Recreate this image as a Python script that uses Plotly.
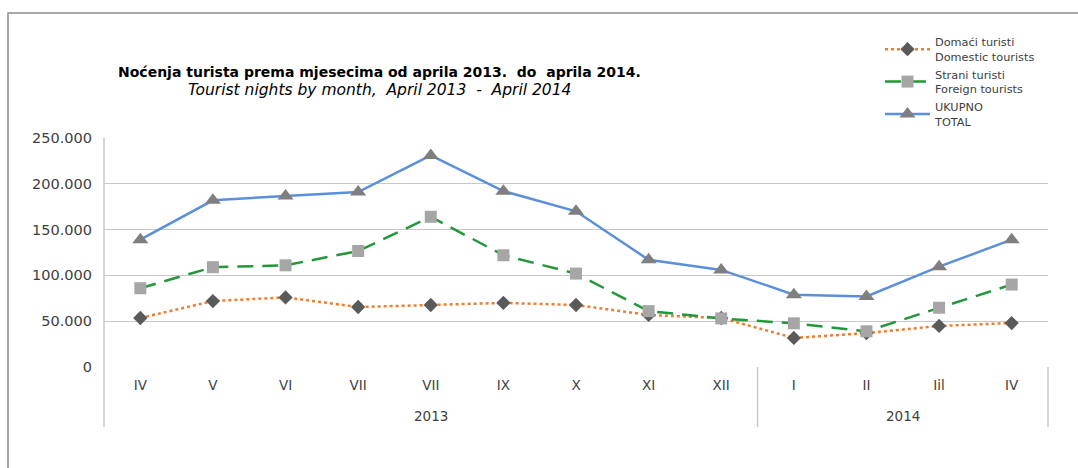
import plotly.graph_objects as go

months = ["IV", "V", "VI", "VII", "VII", "IX", "X", "XI", "XII", "I", "II", "Iil", "IV"]
years = ["2013", "2014"]
year_counts = [9, 4]
domestic = [53500, 72000, 76000, 65500, 67700, 70000, 67700, 56800, 53500, 31700, 37000, 44800, 48000]
foreign = [86000, 109000, 111000, 126600, 164000, 122000, 102000, 61000, 53000, 47700, 39000, 64700, 90000]
total = [139000, 182000, 186700, 191000, 231000, 192000, 170000, 117000, 106000, 79000, 77000, 109500, 139000]

names = ["Domaći turisti<br>Domestic tourists", "Strani turisti<br>Foreign tourists", "UKUPNO<br>TOTAL"]
title1 = "Noćenja turista prema mjesecima od aprila 2013.  do  aprila 2014."
title2 = "Tourist nights by month,  April 2013  -  April 2014"

x = list(range(len(months)))
font = "DejaVu Sans, sans-serif"

fig = go.Figure()
fig.add_trace(go.Scatter(x=x, y=domestic, name=names[0], mode="lines+markers",
                         line=dict(color="#ED7D31", width=2.5, dash="dot"),
                         marker=dict(symbol="diamond", size=11, color="#5A5A5A")))
fig.add_trace(go.Scatter(x=x, y=foreign, name=names[1], mode="lines+markers",
                         line=dict(color="#23973A", width=2.5, dash="16px,9px"),
                         marker=dict(symbol="square", size=12, color="#A6A6A6")))
fig.add_trace(go.Scatter(x=x, y=total, name=names[2], mode="lines+markers",
                         line=dict(color="#5B8FD9", width=2.5),
                         marker=dict(symbol="triangle-up", size=14, color="#7F7F7F")))

L, R, T, B, W, H = 104, 30, 138, 101, 1078, 468
pw, ph = W - L - R, H - T - B

def px_x(p):
    return (p - L) / pw

def px_y(p):
    return (H - B - p) / ph

axis_bottom = px_y(427)
shapes = [
    dict(type="rect", xref="paper", yref="paper", x0=px_x(8), x1=1.2, y0=-0.6, y1=px_y(13),
         line=dict(color="#8C8C8C", width=1.5), fillcolor="rgba(0,0,0,0)", layer="below"),
    dict(type="line", xref="paper", yref="paper", x0=0, x1=0, y0=axis_bottom, y1=1,
         line=dict(color="#C8C8C8", width=1.5)),
    dict(type="line", xref="paper", yref="paper", x0=1, x1=1, y0=axis_bottom, y1=0,
         line=dict(color="#C8C8C8", width=1.5)),
]
annotations = []
pos = 0
for i, (yr, n) in enumerate(zip(years, year_counts)):
    center = pos + (n - 1) / 2
    annotations.append(dict(x=center, y=px_y(416), xref="x", yref="paper", text=yr, showarrow=False,
                            xanchor="center", yanchor="middle",
                            font=dict(size=13.5, color="#404040", family=font)))
    pos += n
    if i < len(years) - 1:
        shapes.append(dict(type="line", xref="x", yref="paper", x0=pos - 0.5, x1=pos - 0.5,
                           y0=axis_bottom, y1=0, line=dict(color="#C8C8C8", width=1.5)))

annotations.append(dict(x=px_x(379), y=px_y(72), xref="paper", yref="paper", text="<b>" + title1 + "</b>",
                        showarrow=False, xanchor="center", yanchor="middle",
                        font=dict(size=14, color="#000000", family=font)))
annotations.append(dict(x=px_x(379), y=px_y(90), xref="paper", yref="paper", text="<i>" + title2 + "</i>",
                        showarrow=False, xanchor="center", yanchor="middle",
                        font=dict(size=15.5, color="#000000", family=font)))

fig.update_layout(
    width=W, height=H,
    margin=dict(l=L, r=R, t=T, b=B),
    paper_bgcolor="white", plot_bgcolor="white",
    separators=",.",
    font=dict(family=font, color="#404040", size=13),
    showlegend=True,
    legend=dict(x=px_x(880), y=px_y(28), xanchor="left", yanchor="top", font=dict(size=11.3, color="#404040"),
                bgcolor="rgba(0,0,0,0)", tracegroupgap=9, itemwidth=45),
    xaxis=dict(range=[-0.5, len(months) - 0.5], tickvals=x, ticktext=months, showgrid=False,
               zeroline=False, showline=False, ticks="", ticklabelstandoff=8,
               tickfont=dict(size=13.5, color="#404040")),
    yaxis=dict(range=[0, 250000], tickvals=[0, 50000, 100000, 150000, 200000, 250000], tickformat=",d",
               showgrid=True, gridcolor="#C8C8C8", gridwidth=1.2, zeroline=False, showline=False,
               ticks="", ticklabelstandoff=11, tickfont=dict(size=14.5, color="#404040")),
    shapes=shapes, annotations=annotations,
)
fig.write_html("out.html", post_script="document.body.style.margin='0';",
               config={"displayModeBar": False})
